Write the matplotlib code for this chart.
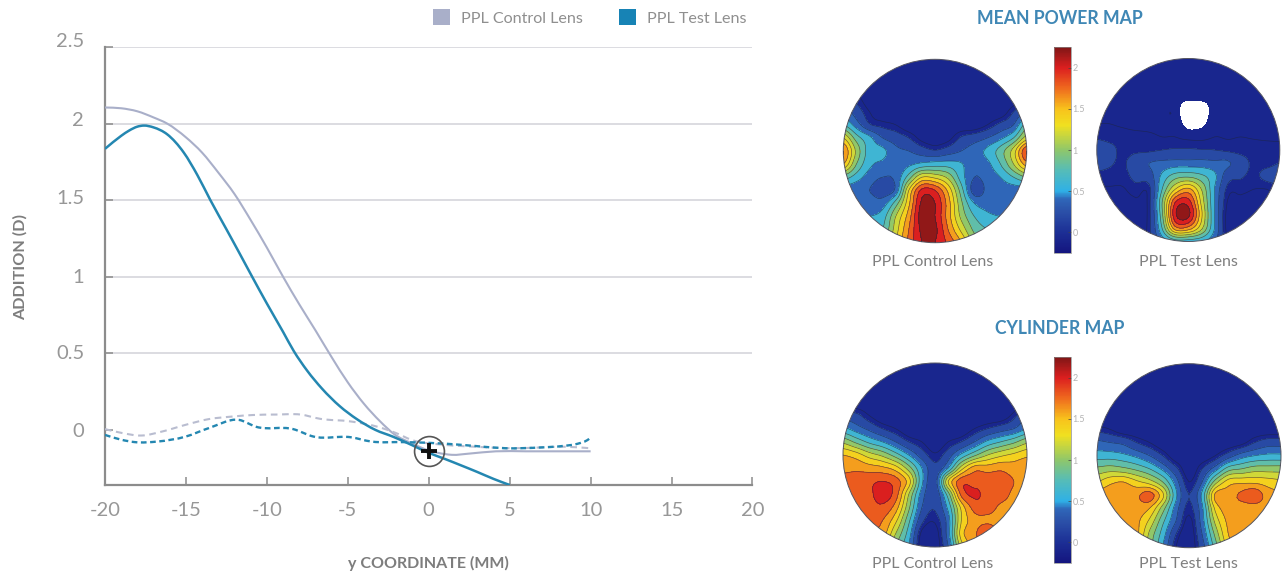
import numpy as np
import matplotlib
matplotlib.use("Agg")
import matplotlib.pyplot as plt
from matplotlib.colors import LinearSegmentedColormap, Normalize
from matplotlib.cm import ScalarMappable
from matplotlib.patches import Circle, Rectangle, PathPatch
from matplotlib.path import Path
from matplotlib.transforms import ScaledTranslation

plt.rcParams['font.family'] = ['Lato', 'DejaVu Sans']

# ---- profile data
control_x = [-20,-19,-18,-17,-16.16,-15,-14,-13,-12,-11,-10,-9,-8,-7,-6,-5,-4,-3,-2.11,-1,0,1,1.43,2.5,4.15,6,8,10]
control_y = [2.105,2.10,2.08,2.04,2.0,1.91,1.81,1.68,1.54,1.37,1.19,1.0,.82,.65,.475,.31,.17,.055,-.03,-.09,-.135,-.158,-.163,-.155,-.14,-.14,-.14,-.14]
test_x = [-20,-19,-18.5,-18,-17.6,-17,-16.16,-15.13,-14.3,-13.49,-12.5,-11.7,-10.91,-10,-9,-8.34,-7.5,-6.6,-5.5,-4.44,-3.3,-2.2,-1.07,0,1,2,3,4,5]
test_y = [1.835,1.92,1.955,1.98,1.987,1.975,1.93,1.81,1.665,1.5,1.31,1.155,1.0,.825,.64,.515,.385,.27,.155,.07,.0,-.045,-.098,-.15,-.19,-.232,-.275,-.32,-.36]
control_dash_x = [-20,-18.97,-17.76,-16.44,-15.02,-13.6,-12.13,-10.86,-9.44,-7.92,-6.7,-4.83,-3.15,-2.04,-1.07,1.0,2.83,5.17,6.89,8.31,10]
control_dash_y = [.005,-.02,-.037,-.01,.033,.07,.087,.097,.10,.10,.072,.055,.02,-.02,-.065,-.098,-.11,-.12,-.115,-.11,-.12]
test_dash_x = [-20,-18.97,-18.16,-16.74,-15.02,-13.6,-11.72,-10.66,-8.38,-7.11,-4.83,-3.56,-1.49,1.0,2.83,4.76,6.89,8.31,9.22,9.89,10]
test_dash_y = [-.033,-.065,-.08,-.076,-.044,.011,.065,.02,.005,-.044,-.048,-.076,-.08,-.09,-.105,-.12,-.115,-.105,-.09,-.06,-.05]
addition_ticks = [0, 0.5, 1, 1.5, 2, 2.5]
addition_labels = ['0', '0.5', '1', '1.5', '2', '2.5']
coord_ticks = [-20, -15, -10, -5, 0, 5, 10, 15, 20]

# ---- lens maps: values on a coarse 15x15 grid, top row first
N = -0.1
mean_control = [
 [N]*15, [N]*15, [N]*15,
 [.1,.05,N,N,N,N,N,N,N,N,N,N,N,N,.1],
 [.4,.2,0,N,N,N,N,N,N,N,N,N,N,.1,.3],
 [.7,.4,.12,.05,0,N,N,N,N,N,N,0,.15,.3,.8],
 [1.3,.8,.55,.3,.2,.1,-.05,N,-.05,.12,.2,.3,.45,.7,1.2],
 [1.7,1.05,.6,.55,.35,.3,.2,.12,.2,.3,.4,.55,.8,1.2,1.9],
 [1.5,.9,.55,.45,.35,.45,.55,.6,.6,.52,.35,.45,.7,1.1,1.6],
 [.8,.6,.4,.3,.35,.8,1.3,1.25,1.05,.6,.3,.38,.5,.7,.9],
 [.4,.35,.3,.2,.35,1.3,1.95,1.9,1.45,.8,.2,.35,.4,.4,.4],
 [.4,.4,.4,.4,.8,1.45,2.15,2.1,1.6,.95,.5,.42,.42,.4,.4],
 [.5,.5,.5,.6,1.1,1.6,2.2,2.1,1.6,1.05,.7,.55,.5,.5,.5],
 [.6,.6,.6,.7,1.2,1.7,2.15,2.15,1.7,1.25,.85,.7,.65,.6,.6],
 [.8,.8,.8,.9,1.3,1.75,2.1,2.1,1.85,1.5,1.0,.8,.8,.8,.8],
]
H = -0.05
U = -0.15
mean_test = [
 [H]*15, [H]*15, [H]*15,
 [H,H,H,H,H,H,U,U,U,U,H,H,H,H,H],
 [H,H,H,H,H,H,H,-.72,-.62,H,H,H,H,H,H],
 [0,0,-.02,H,H,H,H,-.42,-.36,H,H,H,H,H,H],
 [.08,.05,.05,.05,.03,0,0,-.05,-.05,0,-.01,0,-.01,-.02,-.02],
 [.2,.15,.06,.07,.07,.1,.12,.12,.11,.1,.07,.05,.05,.05,.04],
 [.18,.12,.08,.2,.3,.35,.38,.38,.38,.35,.33,.18,.07,.06,.1],
 [.05,.05,.05,.15,.2,.55,.8,.85,.75,.55,.18,.12,.07,.15,.2],
 [-.01,-.01,-.01,.05,.05,.7,1.3,1.55,1.1,.5,.06,.03,0,0,.05],
 [-.02,-.02,-.03,-.02,.05,.9,1.9,2.0,1.25,.5,-.01,-.03,-.03,-.02,-.02],
 [H,H,H,H,.05,.85,2.05,2.15,1.35,.5,H,H,H,H,H],
 [H,H,H,H,.05,.7,1.6,1.6,1.15,.5,H,H,H,H,H],
 [H,H,H,H,.05,.4,.6,.6,.55,.35,0,H,H,H,H],
]
cyl_control = [
 [N]*15, [N]*15, [N]*15, [N]*15,
 [.2,.15,0,N,N,N,N,N,N,N,N,N,N,.05,.3],
 [.55,.4,.25,.1,0,N,N,N,N,N,0,.1,.2,.3,.5],
 [1.05,.85,.65,.5,.3,.1,0,N,0,.1,.3,.55,.7,.85,1.05],
 [1.5,1.4,1.2,1.05,.8,.5,.2,.02,.2,.55,.85,1.1,1.25,1.35,1.45],
 [1.65,1.65,1.6,1.55,1.4,1.0,.5,.15,.5,1.2,1.6,1.6,1.65,1.6,1.65],
 [1.75,1.8,1.85,1.9,1.8,1.4,.55,.2,1.3,1.82,1.82,1.82,1.8,1.7,1.6],
 [1.7,1.8,1.85,2.0,1.8,1.1,.4,.15,.8,1.75,1.93,1.83,1.8,1.65,1.6],
 [1.7,1.75,1.8,1.85,1.6,.95,.3,.12,.55,1.35,1.78,1.8,1.65,1.6,1.6],
 [1.7,1.7,1.75,1.7,1.35,.75,.15,.02,.4,1.3,1.6,1.65,1.6,1.6,1.6],
 [1.65,1.65,1.65,1.6,1.1,.6,-.05,-.08,.4,1.4,1.65,1.92,1.6,1.6,1.6],
 [1.6,1.6,1.6,1.3,.9,.5,N,N,.3,1.2,1.6,1.6,1.6,1.6,1.6],
]
cyl_test = [
 [N]*15, [N]*15, [N]*15, [N]*15, [N]*15,
 [.05,0,N,N,N,N,N,N,N,N,N,N,N,N,N],
 [.35,.3,.25,.1,0,N,N,N,N,N,N,-.05,.1,.2,.2],
 [.6,.6,.55,.45,.3,.1,N,N,N,0,.2,.4,.5,.55,.55],
 [.95,1.0,.95,.85,.7,.45,.15,N,.1,.4,.8,.9,1.0,1.0,1.0],
 [1.3,1.45,1.5,1.35,1.2,.9,.4,0,.3,1.0,1.4,1.45,1.45,1.4,1.35],
 [1.6,1.6,1.6,1.65,1.8,1.35,.55,.1,.55,1.55,1.6,1.75,1.85,1.6,1.55],
 [1.6,1.6,1.6,1.6,1.5,1.0,.4,.05,.45,1.35,1.6,1.6,1.6,1.6,1.6],
 [1.6,1.6,1.6,1.55,1.25,.75,.3,-.05,.4,1.15,1.55,1.6,1.6,1.6,1.6],
 [1.6,1.6,1.6,1.55,1.05,.6,.1,N,.3,.95,1.5,1.6,1.6,1.6,1.6],
 [1.6,1.6,1.5,1.4,1.0,.5,0,N,.2,.8,1.4,1.6,1.6,1.6,1.6],
]
map_levels = [-.25,.1,.3,.5,.7,.9,1.1,1.3,1.5,1.7,1.9,2.1,2.3]
line_levels = [0,.1,.3,.5,.7,.9,1.1,1.3,1.5,1.7,1.9,2.1]
colorbar_ticks = [0,.5,1,1.5,2]
colorbar_labels = ['0','0.5','1','1.5','2']

GRAY = '#8c8c8c'
TXT = '#7d7d7d'
C_CONTROL = '#a9afc9'
C_TEST = '#2487b1'
BLUE_TITLE = '#3f87b5'

W, H_PX = 1284, 577
fig = plt.figure(figsize=(W/100, H_PX/100), dpi=100)

def px_axes(x0, y0, x1, y1, **kw):
    return fig.add_axes([x0/W, 1-y1/H_PX, (x1-x0)/W, (y1-y0)/H_PX], **kw)

def px_text(x, y, s, **kw):
    kw.setdefault('ha', 'center'); kw.setdefault('va', 'center')
    fig.text(x/W, 1-y/H_PX, s, **kw)

def smooth_curve(a, xs, ys, **kw):
    """Bezier path through the read points (rendering only)."""
    x = np.asarray(xs, float); y = np.asarray(ys, float)
    m = np.gradient(y, x)
    verts = [(x[0], y[0])]; codes = [Path.MOVETO]
    for i in range(len(x)-1):
        h = x[i+1]-x[i]
        verts += [(x[i]+h/3, y[i]+m[i]*h/3), (x[i+1]-h/3, y[i+1]-m[i+1]*h/3), (x[i+1], y[i+1])]
        codes += [Path.CURVE4]*3
    a.add_patch(PathPatch(Path(verts, codes), fc='none', **kw))

def refine(z, k=5):
    """Catmull-Rom resampling of a grid, for smooth contour drawing."""
    def along(m):
        n = m.shape[1]
        u = np.linspace(0, n-1, (n-1)*k+1)
        i = np.minimum(u.astype(int), n-2); t = (u-i)[None, :]
        p0 = m[:, np.maximum(i-1, 0)]; p1 = m[:, i]; p2 = m[:, i+1]; p3 = m[:, np.minimum(i+2, n-1)]
        return .5*(2*p1+(p2-p0)*t+(2*p0-5*p1+4*p2-p3)*t**2+(3*p1-p0-3*p2+p3)*t**3)
    return along(along(z).T).T

# ---- main plot
ax = px_axes(105, 47, 752.5, 485)
ax.set_xlim(-20, 20); ax.set_ylim(-0.36, 2.5)
for v in addition_ticks[1:]:
    ax.axhline(v, color='#d9d9de', lw=1.3, zorder=1)
smooth_curve(ax, control_x, control_y, ec=C_CONTROL, lw=1.5, zorder=3)
smooth_curve(ax, control_dash_x, control_dash_y, ec='#b9bdd0', lw=1.5, ls=(0,(3.2,2.2)), zorder=3)
smooth_curve(ax, test_dash_x, test_dash_y, ec=C_TEST, lw=1.7, ls=(0,(2.4,1.5)), zorder=4)
smooth_curve(ax, test_x, test_y, ec=C_TEST, lw=1.8, zorder=4)
ax.plot([0], [-0.137], 'o', ms=21.5, mfc='none', mec='#555555', mew=1.2, zorder=5)
ax.plot([0], [-0.137], '+', ms=11, mec='#111111', mew=2.8, zorder=6)
for s in ('top', 'right'):
    ax.spines[s].set_visible(False)
for s in ('left', 'bottom'):
    ax.spines[s].set_color(GRAY); ax.spines[s].set_linewidth(1.6)
ax.set_xticks(coord_ticks)
ax.set_xticklabels([str(v) for v in coord_ticks])
ax.set_yticks(addition_ticks)
ax.set_yticklabels(addition_labels)
ax.tick_params(axis='both', direction='in', length=6, width=1.1, color=GRAY,
               labelcolor='#979797', labelsize=14.5)
ax.tick_params(axis='x', pad=12)
ax.tick_params(axis='y', pad=15)
y_shift = [0, 1, 1, 3, 5, 7]
for lab, dy in zip(ax.get_yticklabels(), y_shift):
    lab.set_transform(lab.get_transform() + ScaledTranslation(0, dy/100, fig.dpi_scale_trans))
ax.patch.set_alpha(0)

px_text(20, 267.5, 'ADDITION (D)', rotation=90, fontsize=11.7, fontweight='bold', color=TXT)
px_text(428, 563, 'y COORDINATE (MM)', fontsize=11.5, fontweight='bold', color=TXT)

# ---- legend
for x0, col, label, tx in [(433, C_CONTROL, 'PPL Control Lens', 461), (619, '#1783b5', 'PPL Test Lens', 647)]:
    fig.add_artist(Rectangle((x0/W, 1-25/H_PX), 17/W, 16/H_PX, transform=fig.transFigure, color=col, lw=0))
    px_text(tx, 19, label, ha='left', fontsize=11.6, color='#8f8f8f')

# ---- lens maps
cmap = LinearSegmentedColormap.from_list('lens', [
    (0.0, '#14157f'), (0.10, '#1c2f95'), (0.20, '#2b50a8'), (0.26, '#2f66b8'), (0.30, '#2fb0e6'),
    (0.40, '#55bcb8'), (0.50, '#8fc76a'), (0.62, '#f0e020'), (0.70, '#f8c21c'),
    (0.80, '#ef6a1e'), (0.90, '#dc1f1f'), (1.0, '#7f1616')])
norm = Normalize(-0.25, 2.25)
gx = np.linspace(-1, 1, 15)
gy = np.linspace(1, -1, 15)

def lens(cx, cy, r, grid):
    a = px_axes(cx-r-1, cy-r-1, cx+r+1, cy+r+1)
    a.set_xlim(-1-1/r, 1+1/r); a.set_ylim(-1-1/r, 1+1/r)
    a.set_axis_off()
    clip = Circle((0, 0), 1, transform=a.transData, fc='none', ec='none')
    a.add_patch(clip)
    z = refine(np.array(grid, float))
    fx = np.linspace(-1, 1, z.shape[1]); fy = np.linspace(1, -1, z.shape[0])
    cf = a.contourf(fx, fy, z, levels=map_levels, cmap=cmap, norm=norm, extend='neither')
    cl = a.contour(fx, fy, z, levels=line_levels, colors='#1c2440', linewidths=0.45, alpha=0.7)
    cf.set_clip_path(clip); cl.set_clip_path(clip)
    a.add_patch(Circle((0, 0), 1, fc='none', ec='#555560', lw=0.7))

lens(935, 151, 91.7, mean_control)
lens(1188.3, 150, 91.5, mean_test)
lens(935, 455, 92, cyl_control)
lens(1189, 455.7, 92, cyl_test)

def cbar(y0, y1):
    c = px_axes(1054, y0, 1071, y1)
    cb = fig.colorbar(ScalarMappable(norm, cmap), cax=c, ticks=colorbar_ticks)
    cb.ax.set_yticklabels(colorbar_labels)
    cb.ax.tick_params(direction='in', length=2, width=0.5, color='#444444', labelsize=6.5,
                      labelcolor='#b4b4b4', pad=1)
    cb.outline.set_edgecolor('#8a8a8a'); cb.outline.set_linewidth(0.5)

cbar(47, 253)
cbar(357, 563)

px_text(1060, 19, 'MEAN POWER MAP', fontsize=12.7, fontweight='bold', color=BLUE_TITLE)
px_text(1060, 329, 'CYLINDER MAP', fontsize=12.7, fontweight='bold', color=BLUE_TITLE)
for y in (262, 564):
    px_text(933, y, 'PPL Control Lens', fontsize=11.5, color='#7f7f7f')
    px_text(1188, y, 'PPL Test Lens', fontsize=11.5, color='#7f7f7f')

fig.savefig('out.png', dpi=100)
